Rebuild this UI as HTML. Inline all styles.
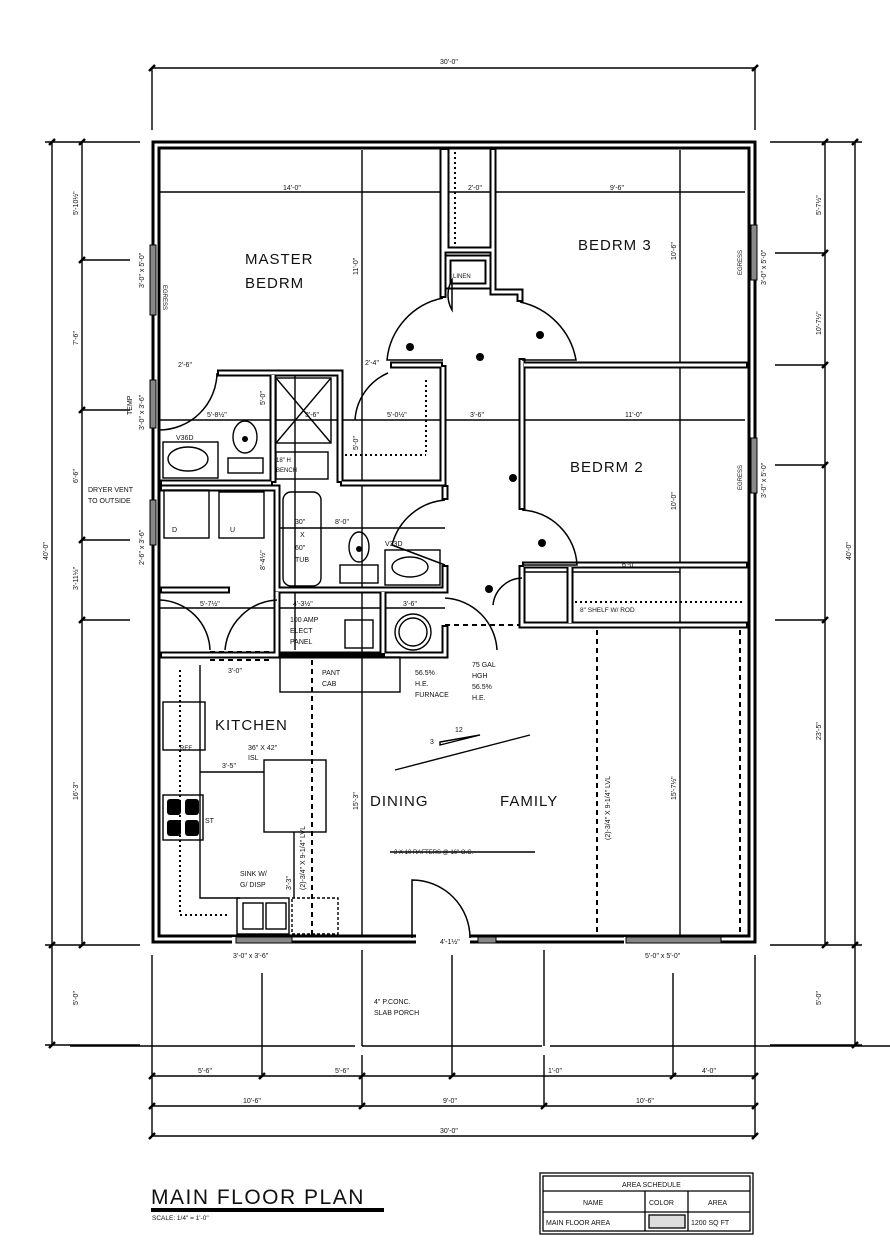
<!DOCTYPE html>
<html><head><meta charset="utf-8"><style>
html,body{margin:0;padding:0;background:#fff;width:890px;height:1249px;overflow:hidden}
svg{display:block}
text{font-family:"Liberation Sans",sans-serif;fill:#111}
.s{font-size:7px}
.r{font-size:15px;letter-spacing:1px}
</style></head><body>
<svg width="890" height="1249" viewBox="0 0 890 1249" xmlns="http://www.w3.org/2000/svg">
<defs>
<g id="tk"><line x1="-3" y1="3" x2="3" y2="-3" stroke="#000" stroke-width="2.5"/></g>
</defs>
<g fill="none" stroke="#000" stroke-width="1.4">
<line x1="152" y1="68" x2="755" y2="68"/>
<line x1="152" y1="68" x2="152" y2="130"/><line x1="755" y1="68" x2="755" y2="130"/>
<line x1="52" y1="142" x2="52" y2="1045"/>
<line x1="82" y1="142" x2="82" y2="945"/>
<line x1="45" y1="142" x2="140" y2="142"/>
<line x1="45" y1="945" x2="140" y2="945"/>
<line x1="45" y1="1045" x2="140" y2="1045"/>
<line x1="82" y1="260" x2="130" y2="260"/>
<line x1="82" y1="410" x2="130" y2="410"/>
<line x1="82" y1="540" x2="130" y2="540"/>
<line x1="82" y1="620" x2="130" y2="620"/>
<line x1="855" y1="142" x2="855" y2="1045"/>
<line x1="825" y1="142" x2="825" y2="945"/>
<line x1="770" y1="142" x2="862" y2="142"/>
<line x1="770" y1="945" x2="862" y2="945"/>
<line x1="770" y1="1045" x2="862" y2="1045"/>
<line x1="775" y1="253" x2="825" y2="253"/>
<line x1="775" y1="365" x2="825" y2="365"/>
<line x1="775" y1="465" x2="825" y2="465"/>
<line x1="775" y1="620" x2="825" y2="620"/>
<line x1="70" y1="1046" x2="355" y2="1046"/><line x1="362" y1="1046" x2="542" y2="1046"/><line x1="550" y1="1046" x2="890" y2="1046"/>
<line x1="152" y1="1076" x2="755" y2="1076"/>
<line x1="152" y1="1106" x2="755" y2="1106"/>
<line x1="152" y1="1136" x2="755" y2="1136"/>
<line x1="152" y1="955" x2="152" y2="1136"/>
<line x1="755" y1="955" x2="755" y2="1136"/>
<line x1="262" y1="973" x2="262" y2="1076"/>
<line x1="362" y1="950" x2="362" y2="1046"/><line x1="362" y1="1055" x2="362" y2="1106"/>
<line x1="452" y1="955" x2="452" y2="1076"/>
<line x1="544" y1="950" x2="544" y2="1046"/><line x1="544" y1="1055" x2="544" y2="1106"/>
<line x1="673" y1="973" x2="673" y2="1076"/>
<line x1="160" y1="192" x2="745" y2="192"/>
<line x1="362" y1="150" x2="362" y2="940"/>
<line x1="680" y1="150" x2="680" y2="940"/>
<line x1="160" y1="420" x2="745" y2="420"/>
<line x1="280" y1="528" x2="445" y2="528"/>
<line x1="160" y1="608" x2="445" y2="608"/>
<line x1="295" y1="375" x2="295" y2="650"/>
<line x1="520" y1="572" x2="680" y2="572"/>
</g>
<g>
<use href="#tk" x="152" y="68"/><use href="#tk" x="755" y="68"/>
<use href="#tk" x="52" y="142"/><use href="#tk" x="52" y="945"/><use href="#tk" x="52" y="1045"/>
<use href="#tk" x="82" y="142"/><use href="#tk" x="82" y="260"/><use href="#tk" x="82" y="410"/><use href="#tk" x="82" y="540"/><use href="#tk" x="82" y="620"/><use href="#tk" x="82" y="945"/>
<use href="#tk" x="855" y="142"/><use href="#tk" x="855" y="945"/><use href="#tk" x="855" y="1045"/>
<use href="#tk" x="825" y="142"/><use href="#tk" x="825" y="253"/><use href="#tk" x="825" y="365"/><use href="#tk" x="825" y="465"/><use href="#tk" x="825" y="620"/><use href="#tk" x="825" y="945"/>
<use href="#tk" x="152" y="1076"/><use href="#tk" x="262" y="1076"/><use href="#tk" x="362" y="1076"/><use href="#tk" x="452" y="1076"/><use href="#tk" x="673" y="1076"/><use href="#tk" x="755" y="1076"/>
<use href="#tk" x="152" y="1106"/><use href="#tk" x="362" y="1106"/><use href="#tk" x="544" y="1106"/><use href="#tk" x="755" y="1106"/>
<use href="#tk" x="152" y="1136"/><use href="#tk" x="755" y="1136"/>
</g>
<g fill="none" stroke-linejoin="miter">
<g stroke="#000" stroke-width="9">
<rect x="156" y="145" width="596" height="794"/>
</g>
<g stroke="#000" stroke-width="7">
<polyline points="443,148 443,298"/>
<polyline points="446,148 446,250 493,250 493,148"/>
<rect x="448" y="258" width="40" height="28"/>
<polyline points="493,250 493,292 520,292 520,302"/>
<polyline points="443,365 443,483 340,483"/>
<polyline points="443,365 390,365"/>
<polyline points="160,483 273,483"/>
<polyline points="217,373 340,373 340,483"/>
<polyline points="273,373 273,483"/>
<polyline points="522,365 748,365"/>
<polyline points="522,358 522,510"/>
<polyline points="522,565 748,565"/>
<polyline points="522,565 522,625 748,625"/>
<polyline points="570,565 570,625"/>
<polyline points="160,488 277,488 277,590 445,590 445,565"/>
<polyline points="445,485 445,500"/>
<polyline points="160,590 230,590"/>
<polyline points="383,590 383,655"/>
<polyline points="277,590 277,655 160,655"/>
<polyline points="383,655 445,655 445,625"/>
<polyline points="270,655 445,655"/>
</g>
<g stroke="#fff" stroke-width="3">
<rect x="156" y="145" width="596" height="794"/>
<polyline points="443,150 443,296"/>
<polyline points="446,150 446,250 493,250 493,150"/>
<rect x="448" y="258" width="40" height="28"/>
<polyline points="493,250 493,292 520,292 520,300"/>
<polyline points="443,367 443,483 342,483"/>
<polyline points="441,365 392,365"/>
<polyline points="162,483 271,483"/>
<polyline points="219,373 340,373 340,481"/>
<polyline points="273,375 273,481"/>
<polyline points="524,365 746,365"/>
<polyline points="522,360 522,508"/>
<polyline points="524,565 746,565"/>
<polyline points="522,567 522,625 746,625"/>
<polyline points="570,567 570,623"/>
<polyline points="162,488 277,488 277,590 445,590 445,567"/>
<polyline points="445,487 445,498"/>
<polyline points="162,590 228,590"/>
<polyline points="383,592 383,653"/>
<polyline points="277,592 277,655 162,655"/>
<polyline points="385,655 445,655 445,627"/>
</g>
<g stroke="#fff" stroke-width="10">
<line x1="232" y1="942" x2="292" y2="942"/>
<line x1="416" y1="939" x2="470" y2="939"/>
<line x1="624" y1="942" x2="720" y2="942"/>
</g>
<g fill="#888" stroke="#000" stroke-width="1">
<rect x="150" y="245" width="6" height="70"/>
<rect x="150" y="380" width="6" height="48"/>
<rect x="150" y="500" width="6" height="45"/>
<rect x="751" y="225" width="6" height="55"/>
<rect x="751" y="438" width="6" height="55"/>
<rect x="236" y="937" width="56" height="6"/>
<rect x="478" y="937" width="18" height="6"/>
<rect x="626" y="937" width="95" height="6"/>
</g>
</g>
<g fill="none" stroke="#000" stroke-width="1.5">
<path d="M443 298 A70 70 0 0 0 387 360 L443 360"/>
<path d="M520 302 A72 72 0 0 1 576 360 L522 360"/>
<path d="M522 510 A58 58 0 0 1 577 565 L522 565"/>
<path d="M217 373 A58 58 0 0 1 159 430"/>
<path d="M388 373 A55 55 0 0 0 355 420"/>
<path d="M445 500 A60 60 0 0 0 392 545 L445 565"/>
<path d="M160 600 A52 52 0 0 1 210 650"/>
<path d="M277 600 A55 55 0 0 0 225 650"/>
<path d="M445 598 A55 55 0 0 1 497 650"/>
<path d="M522 578 A30 30 0 0 0 493 605"/>
<path d="M452 280 A30 30 0 0 0 452 310 Z"/>
<path d="M412 938 L412 880 A58 58 0 0 1 470 938"/>
</g>
<g fill="none" stroke="#000" stroke-width="2" stroke-dasharray="5,4">
<line x1="312" y1="660" x2="312" y2="935"/>
<line x1="597" y1="630" x2="597" y2="935"/>
<line x1="740" y1="630" x2="740" y2="935"/>
<line x1="210" y1="652" x2="270" y2="652"/>
<line x1="210" y1="660" x2="270" y2="660"/>
<line x1="445" y1="625" x2="520" y2="625"/>
</g>
<g fill="none" stroke="#000" stroke-width="2" stroke-dasharray="2,3">
<line x1="455" y1="152" x2="455" y2="248"/>
<line x1="426" y1="380" x2="426" y2="455"/>
<line x1="345" y1="455" x2="426" y2="455"/>
<line x1="180" y1="670" x2="180" y2="915"/>
<line x1="180" y1="915" x2="228" y2="915"/>
<line x1="575" y1="602" x2="745" y2="602"/>
</g>
<g fill="none" stroke="#000" stroke-width="1.4">
<rect x="276" y="378" width="55" height="65"/>
<line x1="276" y1="378" x2="331" y2="443"/><line x1="331" y1="378" x2="276" y2="443"/>
<rect x="276" y="452" width="52" height="27"/>
<rect x="163" y="442" width="55" height="36"/>
<ellipse cx="188" cy="459" rx="20" ry="12"/>
<ellipse cx="245" cy="437" rx="12" ry="16"/>
<rect x="228" y="458" width="35" height="15"/>
<rect x="164" y="490" width="45" height="48"/>
<rect x="219" y="492" width="45" height="46"/>
<rect x="283" y="492" width="38" height="94" rx="8"/>
<ellipse cx="359" cy="547" rx="10" ry="15"/>
<rect x="340" y="565" width="38" height="18"/>
<rect x="385" y="550" width="55" height="35"/>
<ellipse cx="410" cy="567" rx="18" ry="10"/>
<rect x="345" y="620" width="28" height="28"/>
<circle cx="413" cy="632" r="18"/><circle cx="413" cy="632" r="14"/>
<rect x="280" y="657" width="120" height="35"/>
<rect x="163" y="702" width="42" height="48"/>
<polyline points="200,665 200,898 240,898"/>
<rect x="264" y="760" width="62" height="72"/>
<rect x="237" y="898" width="52" height="36"/>
<rect x="243" y="903" width="20" height="26"/><rect x="266" y="903" width="20" height="26"/>
<rect x="292" y="898" width="46" height="36" stroke-dasharray="3,2"/>
<line x1="200" y1="772" x2="264" y2="772"/>
<line x1="294" y1="832" x2="294" y2="898"/>
<line x1="395" y1="770" x2="530" y2="735"/>
<line x1="390" y1="852" x2="535" y2="852"/>
<polygon points="440,745 480,735 440,742"/>
<rect x="163" y="795" width="40" height="45"/>
</g>
<g fill="#000">
<rect x="167" y="799" width="14" height="16" rx="3"/><rect x="185" y="799" width="14" height="16" rx="3"/>
<rect x="167" y="820" width="14" height="16" rx="3"/><rect x="185" y="820" width="14" height="16" rx="3"/>
<circle cx="245" cy="439" r="3"/><circle cx="359" cy="549" r="3"/>
<circle cx="410" cy="347" r="4"/><circle cx="480" cy="357" r="4"/><circle cx="542" cy="543" r="4"/><circle cx="489" cy="589" r="4"/><circle cx="513" cy="478" r="4"/><circle cx="540" cy="335" r="4"/>
</g>
<text class="r" x="245" y="264">MASTER</text>
<text class="r" x="245" y="288">BEDRM</text>
<text class="r" x="578" y="250">BEDRM 3</text>
<text class="r" x="570" y="472">BEDRM 2</text>
<text class="r" x="215" y="730">KITCHEN</text>
<text class="r" x="370" y="806">DINING</text>
<text class="r" x="500" y="806">FAMILY</text>
<g class="s">
<text x="440" y="64">30'-0"</text>
<text x="283" y="190">14'-0"</text>
<text x="610" y="190">9'-6"</text>
<text x="468" y="190">2'-0"</text>
<text x="453" y="278" font-size="6">LINEN</text>
<text x="178" y="367">2'-6"</text><text x="365" y="365">2'-4"</text>
<text x="207" y="417">5'-8½"</text><text x="305" y="417">3'-6"</text><text x="387" y="417">5'-0½"</text><text x="470" y="417">3'-6"</text><text x="625" y="417">11'-0"</text>
<text x="176" y="440">V36D</text><text x="385" y="546">V33D</text>
<text x="276" y="462" font-size="6">18" H</text><text x="276" y="472" font-size="6">BENCH</text>
<text x="295" y="524">30"</text><text x="300" y="537">X</text><text x="295" y="550">60"</text><text x="295" y="562">TUB</text>
<text x="335" y="524">8'-0"</text>
<text x="172" y="532">D</text><text x="230" y="532">U</text>
<text x="88" y="492">DRYER VENT</text><text x="88" y="503">TO OUTSIDE</text>
<text x="200" y="606">5'-7½"</text><text x="293" y="606">4'-3½"</text><text x="403" y="606">3'-6"</text>
<text x="290" y="622">100 AMP</text><text x="290" y="633">ELECT</text><text x="290" y="644">PANEL</text>
<text x="622" y="567">6'-0"</text>
<text x="580" y="612" font-size="6.5">8" SHELF W/ ROD</text>
<text x="322" y="675">PANT</text><text x="322" y="686">CAB</text>
<text x="415" y="675">56.5%</text><text x="415" y="686">H.E.</text><text x="415" y="697">FURNACE</text>
<text x="472" y="667">75 GAL</text><text x="472" y="678">HGH</text><text x="472" y="689">56.5%</text><text x="472" y="700">H.E.</text>
<text x="228" y="673">3'-0"</text>
<text x="248" y="750">36" X 42"</text><text x="248" y="760">ISL</text>
<text x="222" y="768">3'-5"</text>
<text x="205" y="823">ST</text>
<text x="240" y="876">SINK W/</text><text x="240" y="887">G/ DISP</text>
<text x="180" y="750" font-size="6">REF</text>
<text x="394" y="854" font-size="6">2 X 10 RAFTERS @ 16" O.C.</text>
<text x="455" y="732">12</text><text x="430" y="744">3</text>
<text x="440" y="944">4'-1½"</text>
<text x="233" y="958">3'-0" x 3'-6"</text>
<text x="645" y="958">5'-0" x 5'-0"</text>
<text x="374" y="1004">4" P.CONC.</text><text x="374" y="1015">SLAB PORCH</text>
<text x="198" y="1073">5'-6"</text><text x="335" y="1073">5'-6"</text><text x="548" y="1073">1'-0"</text><text x="702" y="1073">4'-0"</text>
<text x="243" y="1103">10'-6"</text><text x="443" y="1103">9'-0"</text><text x="636" y="1103">10'-6"</text>
<text x="440" y="1133">30'-0"</text>
</g>
<g class="s">
<text transform="translate(48,560) rotate(-90)">40'-0"</text>
<text transform="translate(78,215) rotate(-90)">5'-10½"</text>
<text transform="translate(78,345) rotate(-90)">7'-6"</text>
<text transform="translate(78,483) rotate(-90)">6'-6"</text>
<text transform="translate(78,590) rotate(-90)">3'-11½"</text>
<text transform="translate(78,800) rotate(-90)">16'-3"</text>
<text transform="translate(78,1005) rotate(-90)">5'-0"</text>
<text transform="translate(851,560) rotate(-90)">40'-0"</text>
<text transform="translate(821,215) rotate(-90)">5'-7½"</text>
<text transform="translate(821,335) rotate(-90)">10'-7½"</text>
<text transform="translate(821,740) rotate(-90)">23'-5"</text>
<text transform="translate(821,1005) rotate(-90)">5'-0"</text>
<text transform="translate(144,288) rotate(-90)">3'-0" x 5'-0"</text>
<text transform="translate(163,285) rotate(90)" font-size="6">EGRESS</text>
<text transform="translate(144,430) rotate(-90)">3'-0" x 3'-6"</text>
<text transform="translate(132,415) rotate(-90)">TEMP</text>
<text transform="translate(144,565) rotate(-90)">2'-6" x 3'-6"</text>
<text transform="translate(766,285) rotate(-90)">3'-0" x 5'-0"</text>
<text transform="translate(742,275) rotate(-90)" font-size="6">EGRESS</text>
<text transform="translate(766,498) rotate(-90)">3'-0" x 5'-0"</text>
<text transform="translate(742,490) rotate(-90)" font-size="6">EGRESS</text>
<text transform="translate(358,275) rotate(-90)">11'-0"</text>
<text transform="translate(358,810) rotate(-90)">15'-3"</text>
<text transform="translate(676,260) rotate(-90)">10'-6"</text>
<text transform="translate(676,510) rotate(-90)">10'-0"</text>
<text transform="translate(676,800) rotate(-90)">15'-7½"</text>
<text transform="translate(610,840) rotate(-90)">(2)-3/4" X 9-1/4" LVL</text>
<text transform="translate(305,890) rotate(-90)">(2)-3/4" X 9-1/4" LVL</text>
<text transform="translate(265,570) rotate(-90)">8'-4½"</text>
<text transform="translate(265,405) rotate(-90)">5'-0"</text>
<text transform="translate(358,450) rotate(-90)">5'-0"</text>
<text transform="translate(291,890) rotate(-90)">3'-3"</text>
</g>
<text x="151" y="1204" font-size="21" letter-spacing="1.5">MAIN FLOOR PLAN</text>
<rect x="151" y="1208" width="233" height="4" fill="#000"/>
<text x="152" y="1220" font-size="6.5">SCALE: 1/4" = 1'-0"</text>
<g fill="none" stroke="#000" stroke-width="1.3">
<rect x="540" y="1173" width="213" height="61"/>
<rect x="543" y="1176" width="207" height="55"/>
<line x1="543" y1="1191" x2="750" y2="1191"/>
<line x1="543" y1="1212" x2="750" y2="1212"/>
<line x1="645" y1="1191" x2="645" y2="1231"/>
<line x1="688" y1="1191" x2="688" y2="1231"/>
<rect x="649" y="1215" width="36" height="13" fill="#ddd"/>
</g>
<g class="s" font-size="6.5">
<text x="622" y="1187">AREA SCHEDULE</text>
<text x="583" y="1205">NAME</text><text x="649" y="1205">COLOR</text><text x="708" y="1205">AREA</text>
<text x="546" y="1225">MAIN FLOOR AREA</text><text x="691" y="1225">1200 SQ FT</text>
</g>
</svg>
</body></html>
